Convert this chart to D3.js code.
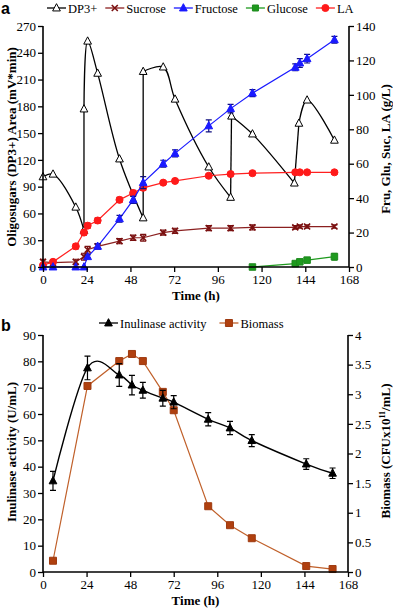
<!DOCTYPE html>
<html>
<head>
<meta charset="utf-8">
<script src="https://cdn.jsdelivr.net/npm/d3@7"></script>
<style>
  body { margin: 0; background: #fff; }
</style>
</head>
<body>
<svg id="chart" width="393" height="610"></svg>
<script>
// Panel a data
const timeA = [0, 5.5, 18, 22.5, 24.5, 30, 42, 49.5, 55, 66, 72.5, 91, 103, 115, 138.5, 141, 145, 160];
const fructose = [0, 0, 0, 0, 6, 12, 28, 39, 49, 60, 66, 82, 92, 101, 116, 118.5, 121, 132];
const fructoseErr = [0, 0, 0, 0, 1, 1.5, 2, 2, 3.5, 2, 2, 3.5, 2.5, 2, 2, 2.5, 2.5, 2];
const la = [1, 3, 12, 20, 24, 27, 39, 43, 46, 49, 50, 53, 54, 54.5, 55, 55, 55, 55];
const laErr = [1, 1, 1.5, 1.5, 1.5, 1.5, 1.5, 1.5, 1.5, 1, 1, 1, 1, 1, 1, 1, 1, 1];
const sucrose = [3, 2.5, 3, 6, 10, 12, 15, 17, 17, 20, 21, 22.6, 22.6, 23, 23, 23.5, 23.5, 23.5];
const sucroseErr = [1.5, 1, 1.5, 2, 2, 1.5, 1.5, 1.5, 2, 1.5, 1.5, 1.5, 1.5, 1.5, 1, 1, 1, 1];
const timeGlu = [115, 138.5, 141, 145, 160];
const glucose = [0, 2, 3, 4, 6];
const glucoseErr = [0, 1, 1, 1.5, 2];
const timeDP = [0, 5.5, 18, 22.5, 22.5, 24.5, 30, 42, 55, 55, 66, 72.5, 91, 103, 103.5, 115, 138, 140.5, 145, 160];
const dp3 = [101, 104, 67, 41, 177, 253, 217, 121, 55, 219, 224, 188, 112, 78, 169, 149, 94, 161, 187, 142];
// indices after which a feed makes the DP3+ trace jump (drawn as straight pieces)
const dpFeedAfter = [3, 8, 13, 16];

// Panel b data
const timeB = [5.5, 24.5, 42, 49, 55, 66, 72, 91, 103, 115, 145, 159.5];
const inulinase = [34.6, 77.5, 74.8, 71, 69, 66, 64.5, 58, 54.7, 49.9, 41, 37.5];
const inulinaseErr = [3.6, 4.5, 4.3, 3.7, 3, 3, 2.5, 2.5, 2.5, 2.3, 2, 2];
const biomass = [0.19, 3.14, 3.56, 3.68, 3.56, 3.04, 2.73, 1.11, 0.79, 0.57, 0.10, 0.05];

const xTicks = [0, 24, 48, 72, 96, 120, 144, 168];
const leftTicksA = d3.range(0, 271, 30);
const rightTicksA = d3.range(0, 141, 20);
const leftTicksB = d3.range(0, 91, 10);
const rightTicksB = [0, 0.5, 1, 1.5, 2, 2.5, 3, 3.5, 4];

const FONT = "'Liberation Serif', 'Times New Roman', Times, serif";
const svg = d3.select("#chart");

function markerPath(type, size) {
    const s = size;
    if (type === "tri") return `M0,${-s * 0.62}L${s * 0.55},${s * 0.42}L${-s * 0.55},${s * 0.42}Z`;
    if (type === "sq") return `M${-s / 2},${-s / 2}h${s}v${s}h${-s}Z`;
    if (type === "x") return `M${-s / 2},${-s / 2}L${s / 2},${s / 2}M${s / 2},${-s / 2}L${-s / 2},${s / 2}`;
    return d3.symbol(d3.symbolCircle, size * size * 0.8)();
}

function drawMarker(g, type, x, y, color, fill, size) {
    g.append("path")
        .attr("transform", `translate(${x},${y})`)
        .attr("d", markerPath(type, size))
        .attr("stroke", color)
        .attr("stroke-width", type === "x" ? 1.6 : 1)
        .attr("fill", fill);
}

function drawSeries(g, x, y, ts, vs, opt) {
    const pts = ts.map((t, i) => [x(t), y(vs[i])]);
    // split into pieces: smooth inside each piece, straight across the breaks
    const breaks = opt.breaks || [];
    let start = 0;
    const pieces = [];
    breaks.concat([pts.length - 1]).forEach(b => {
        pieces.push(pts.slice(start, b + 1));
        if (b < pts.length - 1) pieces.push([pts[b], pts[b + 1]]);
        start = b + 1;
    });
    pieces.forEach(pc => {
        g.append("path")
            .attr("d", d3.line().curve(pc.length > 2 ? (opt.curve || d3.curveLinear) : d3.curveLinear)(pc))
            .attr("fill", "none")
            .attr("stroke", opt.lineColor)
            .attr("stroke-width", opt.lineWidth || 1.2);
    });
    if (opt.err) {
        ts.forEach((t, i) => {
            const e = opt.err[i];
            if (!e) return;
            const cx = x(t), y1 = y(vs[i] - e), y2 = y(vs[i] + e);
            g.append("path")
                .attr("d", `M${cx},${y1}V${y2}M${cx - 3},${y1}h6M${cx - 3},${y2}h6`)
                .attr("stroke", opt.errColor || opt.color)
                .attr("stroke-width", 1.2)
                .attr("fill", "none");
        });
    }
    ts.forEach((t, i) => drawMarker(g, opt.marker, x(t), y(vs[i]), opt.color, opt.fill, opt.size || 7));
}

function drawAxes(g, x, yL, yR, ticksL, ticksR, fmtR, bottom) {
    const axX = g.append("g").attr("transform", `translate(0,${bottom})`)
        .call(d3.axisBottom(x).tickValues(xTicks).tickSize(5).tickPadding(3));
    const axL = g.append("g").attr("transform", `translate(${x(0)},0)`)
        .call(d3.axisLeft(yL).tickValues(ticksL).tickSize(5).tickPadding(2));
    const axR = g.append("g").attr("transform", `translate(${x(168)},0)`)
        .call(d3.axisRight(yR).tickValues(ticksR).tickSize(5).tickPadding(2).tickFormat(fmtR));
    [axX, axL, axR].forEach(a => {
        a.select(".domain").attr("stroke", "#000").attr("stroke-width", 1.6);
        a.selectAll(".tick line").attr("stroke", "#000").attr("stroke-width", 1.3);
        a.selectAll(".tick text").attr("fill", "#000").style("font-size", "13px");
    });
    axX.select(".domain").attr("d", `M${x(0)},0H${x(168)}`);
    axL.select(".domain").attr("d", `M0,${yL.range()[0]}V${yL.range()[1]}`);
    axR.select(".domain").attr("d", `M0,${yR.range()[0]}V${yR.range()[1]}`);

    g.append("text")
        .attr("x", (x(0) + x(168)) / 2).attr("y", bottom + 33)
        .attr("text-anchor", "middle").style("font-size", "13px").style("font-weight", "bold")
        .text("Time (h)");
}

function drawLegend(g, items, x0, y0, gap) {
    let xx = x0;
    items.forEach(it => {
        g.append("line").attr("x1", xx).attr("x2", xx + 19).attr("y1", y0).attr("y2", y0)
            .attr("stroke", it.lineColor).attr("stroke-width", 1.3);
        drawMarker(g, it.marker, xx + 9.5, y0, it.color, it.fill, it.size || 7);
        const t = g.append("text").attr("x", xx + 21).attr("y", y0 + 4.5)
            .style("font-family", FONT).style("font-size", "12.5px").text(it.name);
        xx += 21 + t.node().getComputedTextLength() + gap;
    });
}

// ---------- Panel a ----------
const ga = svg.append("g");
const xa = d3.scaleLinear().domain([0, 168]).range([43, 349]);
const yaL = d3.scaleLinear().domain([0, 270]).range([267, 26]);
const yaR = d3.scaleLinear().domain([0, 140]).range([267, 26]);

drawSeries(ga, xa, yaL, timeDP, dp3, { marker: "tri", color: "#000", fill: "#fff", lineColor: "#000", curve: d3.curveCatmullRom.alpha(0.5), lineWidth: 1.3, breaks: dpFeedAfter });
drawSeries(ga, xa, yaR, timeA, sucrose, { marker: "x", color: "#7a1010", fill: "none", lineColor: "#8b2020", err: sucroseErr, size: 6 });
drawSeries(ga, xa, yaR, timeGlu, glucose, { marker: "sq", color: "#1e8a1e", fill: "#1e9a1e", lineColor: "#1e9a1e", err: glucoseErr, size: 6.5 });
drawSeries(ga, xa, yaR, timeA, la, { marker: "circle", color: "#ff1a1a", fill: "#ff1a1a", lineColor: "#ff2020", err: laErr, errColor: "#c01010", size: 7 });
drawSeries(ga, xa, yaR, timeA, fructose, { marker: "tri", color: "#1a1aff", fill: "#1a1aff", lineColor: "#1a1aff", err: fructoseErr, errColor: "#101080" });

drawAxes(ga, xa, yaL, yaR, leftTicksA, rightTicksA, d3.format("d"), 267);

ga.append("text").attr("transform", "translate(16,147) rotate(-90)")
    .attr("text-anchor", "middle").style("font-size", "13px").style("font-weight", "bold")
    .text("Oligosugars (DP3+) Area (mV*min)");
ga.append("text").attr("transform", "translate(390,149) rotate(-90)")
    .attr("text-anchor", "middle").style("font-size", "13px").style("font-weight", "bold")
    .text("Fru, Glu, Suc, LA (g/L)");

drawLegend(ga, [
    { name: "DP3+", marker: "tri", color: "#000", fill: "#fff", lineColor: "#000" },
    { name: "Sucrose", marker: "x", color: "#7a1010", fill: "none", lineColor: "#8b2020", size: 6 },
    { name: "Fructose", marker: "tri", color: "#1a1aff", fill: "#1a1aff", lineColor: "#1a1aff" },
    { name: "Glucose", marker: "sq", color: "#1e8a1e", fill: "#1e9a1e", lineColor: "#1e9a1e", size: 6 },
    { name: "LA", marker: "circle", color: "#ff1a1a", fill: "#ff1a1a", lineColor: "#ff2020" }
], 47, 8, 8);

// ---------- Panel b ----------
const gb = svg.append("g");
const xb = d3.scaleLinear().domain([0, 168]).range([43, 348]);
const ybL = d3.scaleLinear().domain([0, 90]).range([572, 335]);
const ybR = d3.scaleLinear().domain([0, 4]).range([572, 335]);

drawSeries(gb, xb, ybR, timeB, biomass, { marker: "sq", color: "#9e3a10", fill: "#b0400f", lineColor: "#c0602a", size: 7 });
drawSeries(gb, xb, ybL, timeB, inulinase, { marker: "tri", color: "#000", fill: "#000", lineColor: "#000", err: inulinaseErr, curve: d3.curveCatmullRom.alpha(0), lineWidth: 1.4 });

drawAxes(gb, xb, ybL, ybR, leftTicksB, rightTicksB, d => String(d), 572);

gb.append("text").attr("transform", "translate(16,452) rotate(-90)")
    .attr("text-anchor", "middle").style("font-size", "13px").style("font-weight", "bold")
    .text("Inulinase activity (U/mL)");
const bt = gb.append("text").attr("transform", "translate(390,451) rotate(-90)")
    .attr("text-anchor", "middle").style("font-size", "13px").style("font-weight", "bold");
bt.append("tspan").text("Biomass (CFUx10");
bt.append("tspan").attr("dy", -5).style("font-size", "8px").text("11");
bt.append("tspan").attr("dy", 5).text("/mL)");

drawLegend(gb, [
    { name: "Inulinase activity", marker: "tri", color: "#000", fill: "#000", lineColor: "#000" },
    { name: "Biomass", marker: "sq", color: "#9e3a10", fill: "#b0400f", lineColor: "#c0602a" }
], 99, 323, 13);

// serif everywhere, then the sans panel letters
svg.selectAll("g").attr("font-family", null);
svg.selectAll("text").style("font-family", FONT);
svg.append("text").attr("x", 1).attr("y", 14).style("font-size", "16px").style("font-weight", "bold")
    .style("font-family", "'Liberation Sans', Arial, sans-serif").text("a");
svg.append("text").attr("x", 1).attr("y", 331).style("font-size", "16px").style("font-weight", "bold")
    .style("font-family", "'Liberation Sans', Arial, sans-serif").text("b");
</script>
</body>
</html>
